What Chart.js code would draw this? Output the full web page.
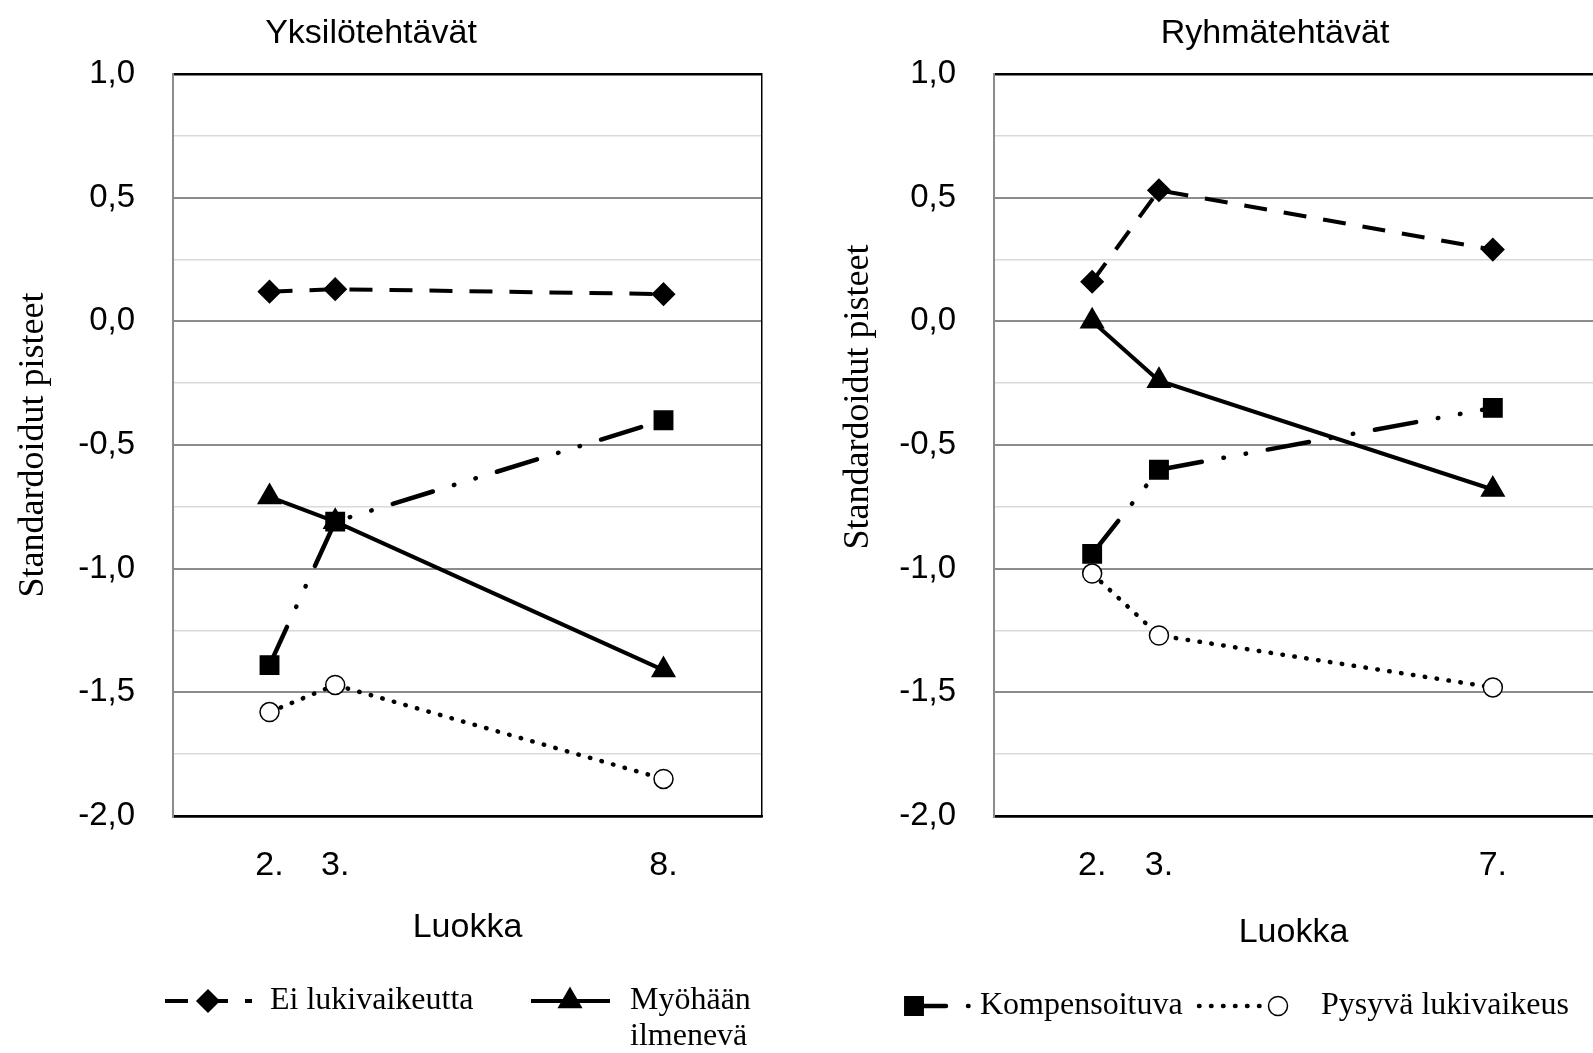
<!DOCTYPE html>
<html lang="fi">
<head>
<meta charset="UTF-8">
<title>Yksilö- ja ryhmätehtävät</title>
<script src="https://cdn.jsdelivr.net/npm/chart.js"></script>
<style>
  * { margin: 0; padding: 0; box-sizing: border-box; }
  body { background: #fff; width: 1593px; height: 1053px; position: relative; overflow: hidden; }
  canvas { position: absolute; top: 0; }
  #yksilo { left: 0; }
  #ryhma { left: 800px; }
</style>
</head>
<body>
<canvas id="yksilo" width="800" height="1053"></canvas>
<canvas id="ryhma" width="793" height="1053"></canvas>

<script>
// luokkien paikat x-akselilla (2., 3. ja viimeinen luokka)
const slotPos = [0, 1, 6];
const gradesYksilo = ['2.', '3.', '8.'];
const gradesRyhma = ['2.', '3.', '7.'];

const seriesNames = ['Ei lukivaikeutta', 'Myöhään ilmenevä', 'Kompensoituva', 'Pysyvä lukivaikeus'];

// Yksilötehtävät
const yksiloEi = [0.12, 0.13, 0.11];
const yksiloMyo = [-0.71, -0.81, -1.41];
const yksiloKomp = [-1.39, -0.81, -0.40];
const yksiloPys = [-1.58, -1.47, -1.85];

// Ryhmätehtävät
const ryhmaEi = [0.16, 0.53, 0.29];
const ryhmaMyo = [0.00, -0.24, -0.68];
const ryhmaKomp = [-0.94, -0.60, -0.35];
const ryhmaPys = [-1.02, -1.27, -1.48];

const SANS = "'Liberation Sans', Arial, sans-serif";
const SERIF = "'Liberation Serif', 'Times New Roman', serif";

const styles = [
    { borderDash: [23, 17], borderWidth: 4, pointStyle: 'rectRot', pointRadius: 11, fill: '#000', cap: 'butt' },
    { borderDash: [], borderWidth: 4, pointStyle: 'triangle', pointRadius: 13, fill: '#000', cap: 'butt' },
    { borderDash: [42, 22, 0.5, 22, 0.5, 22], borderWidth: 4.5, pointStyle: 'rect', pointRadius: 13, fill: '#000', cap: 'round' },
    { borderDash: [0.5, 11.5], borderWidth: 4.5, pointStyle: 'circle', pointRadius: 9.5, fill: '#fff', cap: 'round' }
];

const toPoints = vals => vals.map((v, i) => ({ x: slotPos[i], y: v }));

function makeDatasets(series) {
    return series.map((vals, i) => ({
        label: seriesNames[i],
        data: toPoints(vals),
        borderColor: '#000',
        borderWidth: styles[i].borderWidth,
        borderDash: styles[i].borderDash,
        borderCapStyle: styles[i].cap,
        tension: 0,
        fill: false,
        pointStyle: styles[i].pointStyle,
        pointRadius: styles[i].pointRadius,
        pointHoverRadius: styles[i].pointRadius,
        pointBackgroundColor: styles[i].fill,
        pointBorderColor: '#000',
        pointBorderWidth: 1.5
    }));
}

// otsikot (kaavion otsikko ja pystyakselin otsikko)
const panelText = {
    id: 'panelText',
    afterDraw(chart, args, opts) {
        const ctx = chart.ctx;
        ctx.save();
        ctx.fillStyle = '#000';
        ctx.textAlign = 'center';
        ctx.textBaseline = 'alphabetic';
        ctx.font = '34px ' + SANS;
        ctx.fillText(opts.title, opts.titleX, opts.titleY);
        ctx.translate(opts.yTitleX, opts.yTitleY);
        ctx.rotate(-Math.PI / 2);
        ctx.font = '36px ' + SERIF;
        ctx.textBaseline = 'middle';
        ctx.fillText(opts.yTitle, 0, 0);
        ctx.restore();
    }
};

// selite: viiva + merkki + teksti
const lineLegend = {
    id: 'lineLegend',
    afterDraw(chart, args, opts) {
        const ctx = chart.ctx;
        opts.items.forEach(it => {
            const ds = chart.data.datasets[it.dataset];
            ctx.save();
            ctx.strokeStyle = ds.borderColor;
            ctx.lineWidth = ds.borderWidth;
            ctx.lineCap = ds.borderCapStyle;
            ctx.setLineDash(ds.borderDash);
            ctx.lineDashOffset = it.dashOffset || 0;
            ctx.beginPath();
            ctx.moveTo(it.x0, it.y);
            ctx.lineTo(it.x1, it.y);
            ctx.stroke();
            ctx.setLineDash([]);
            ctx.fillStyle = ds.pointBackgroundColor;
            ctx.strokeStyle = ds.pointBorderColor;
            ctx.lineWidth = ds.pointBorderWidth;
            Chart.helpers.drawPoint(ctx, {
                pointStyle: ds.pointStyle,
                radius: ds.pointRadius,
                rotation: 0,
                borderWidth: ds.pointBorderWidth
            }, it.px, it.y);
            ctx.fillStyle = '#000';
            ctx.font = '32px ' + SERIF;
            ctx.textAlign = 'left';
            ctx.textBaseline = 'middle';
            const lines = it.wrap ? ds.label.split(' ') : [ds.label];
            lines.forEach((t, k) => ctx.fillText(t, it.tx, it.y + k * 36));
            ctx.restore();
        });
    }
};

function gridColor(c) {
    const v = c.tick.value;
    if (v === 1 || v === -2) return '#000';
    return Math.abs(v * 2 - Math.round(v * 2)) < 1e-6 ? '#8c8c8c' : '#d9d9d9';
}
function gridWidth(c) {
    const v = c.tick.value;
    if (v === 1 || v === -2) return 2.5;
    return Math.abs(v * 2 - Math.round(v * 2)) < 1e-6 ? 2 : 1.5;
}

function makeChart(id, cfg) {
    const scales = {
        x: {
            type: 'linear',
            min: -1.47,
            max: 7.5,
            afterBuildTicks: s => { s.ticks = slotPos.map(v => ({ value: v })); },
            afterFit: s => { s.height = 237; },
            grid: { display: false },
            border: { color: '#000', width: 2.5 },
            ticks: {
                padding: 21,
                color: '#000',
                font: { size: 34, family: SANS },
                callback: v => cfg.grades[slotPos.indexOf(v)]
            },
            title: {
                display: true,
                text: 'Luokka',
                color: '#000',
                font: { size: 34, family: SANS },
                padding: { top: 0, bottom: cfg.xTitlePad }
            }
        },
        y: {
            min: -2,
            max: 1,
            afterFit: s => { s.width = cfg.yWidth; },
            grid: { color: gridColor, lineWidth: gridWidth, drawTicks: false },
            border: { color: '#8c8c8c', width: 2 },
            ticks: {
                stepSize: 0.25,
                padding: 38,
                color: '#000',
                font: { size: 33, family: SANS },
                callback: v => (Math.abs(v * 2 - Math.round(v * 2)) < 1e-6) ? v.toFixed(1).replace('.', ',') : ''
            }
        }
    };
    if (cfg.rightBorder) {
        scales.y2 = {
            position: 'right',
            min: -2,
            max: 1,
            afterFit: s => { s.width = 0; },
            grid: { display: false },
            border: { color: '#000', width: 1.5 },
            ticks: { display: false }
        };
    }
    return new Chart(document.getElementById(id), {
        type: 'line',
        data: { datasets: makeDatasets(cfg.series) },
        options: {
            responsive: false,
            animation: false,
            layout: { autoPadding: false, padding: { top: 74, left: 0, right: cfg.padRight, bottom: 0 } },
            scales: scales,
            plugins: {
                legend: { display: false },
                tooltip: { enabled: false },
                panelText: cfg.text,
                lineLegend: { items: cfg.legend }
            }
        },
        plugins: [panelText, lineLegend]
    });
}

makeChart('yksilo', {
    series: [yksiloEi, yksiloMyo, yksiloKomp, yksiloPys],
    grades: gradesYksilo,
    yWidth: 173,
    padRight: 38,
    rightBorder: true,
    xTitlePad: 105,
    text: { title: 'Yksilötehtävät', titleX: 371, titleY: 43, yTitle: 'Standardoidut pisteet', yTitleX: 34, yTitleY: 445 },
    legend: [
        { dataset: 0, x0: 165, x1: 252, px: 208, tx: 270, y: 1001 },
        { dataset: 1, x0: 531, x1: 610, px: 570, tx: 630, y: 1001, wrap: true }
    ]
});

makeChart('ryhma', {
    series: [ryhmaEi, ryhmaMyo, ryhmaKomp, ryhmaPys],
    grades: gradesRyhma,
    yWidth: 194,
    padRight: 0,
    rightBorder: false,
    xTitlePad: 100,
    text: { title: 'Ryhmätehtävät', titleX: 475, titleY: 43, yTitle: 'Standardoidut pisteet', yTitleX: 59, yTitleY: 397 },
    legend: [
        { dataset: 2, x0: 114, x1: 170, px: 114, tx: 180, y: 1006, dashOffset: 10 },
        { dataset: 3, x0: 399, x1: 478, px: 478, tx: 521, y: 1006 }
    ]
});
</script>
</body>
</html>
